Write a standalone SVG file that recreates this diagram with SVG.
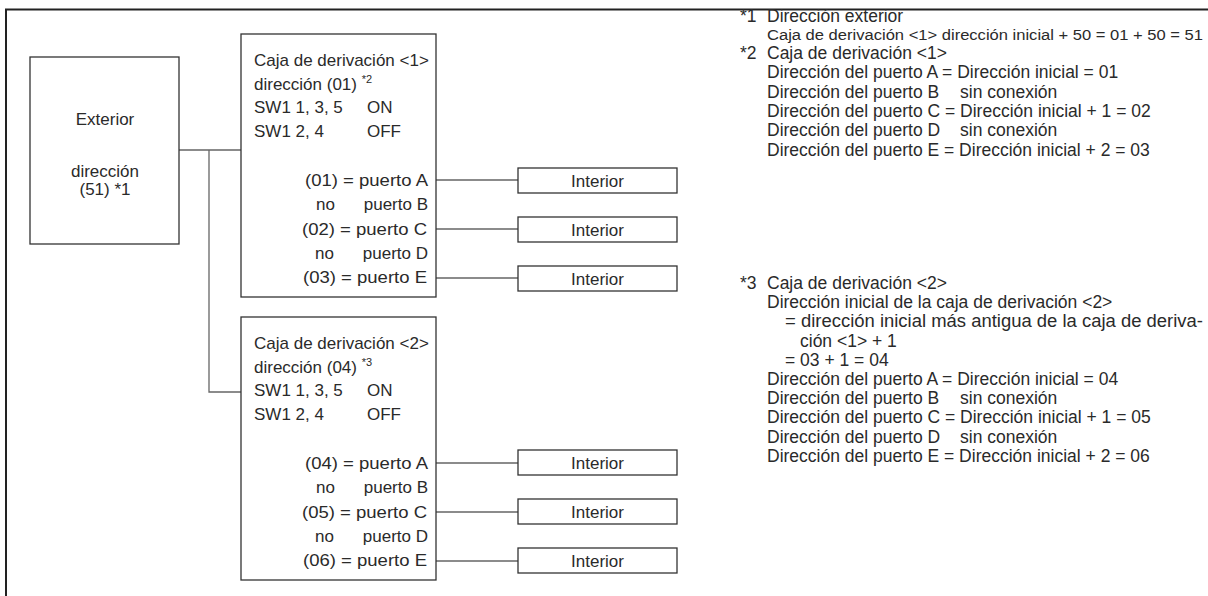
<svg xmlns="http://www.w3.org/2000/svg" width="1208" height="596" viewBox="0 0 1208 596">
<style>
text{font-family:"Liberation Sans",Arial,sans-serif;font-size:17px;fill:#2a2a2a}
.n{font-size:17.5px}
.box{fill:#fff;stroke:#333;stroke-width:1.3}
.wire{fill:none;stroke:#666;stroke-width:1.3}
.frame{fill:none;stroke:#222;stroke-width:2}
.sup{font-size:11px}
.sm{font-size:15.5px}
.e{text-anchor:end}
.m{text-anchor:middle}
</style>
<rect width="1208" height="596" fill="#fff"/>
<path class="frame" d="M6,596 V9.5 H1208"/>
<g id="connectors">
<path class="wire" d="M179,150 H241 M209,150 V392 H241"/>
<path class="wire" d="M436,180 H518 M436,229 H518 M436,278 H518"/>
<path class="wire" d="M436,463 H518 M436,512 H518 M436,561 H518"/>
</g>
<g id="exterior">
<rect class="box" x="30" y="57" width="149" height="187"/>
<text class="m" x="105" y="125">Exterior</text>
<text class="m" x="105" y="177">dirección</text>
<text class="m" x="105" y="195">(51) *1</text>
</g>
<g id="caja1">
<rect class="box" x="241" y="34" width="195" height="263"/>
<text x="254" y="66">Caja de derivación &lt;1&gt;</text>
<text x="254" y="90">dirección (01) <tspan class="sup" dy="-7">*2</tspan></text>
<text x="254" y="113">SW1 1, 3, 5</text><text x="367" y="113">ON</text>
<text x="254" y="137">SW1 2, 4</text><text x="367" y="137">OFF</text>
<text x="305" y="186" textLength="123" lengthAdjust="spacingAndGlyphs">(01) = puerto A</text>
<text x="316" y="210">no</text><text class="e" x="428" y="210">puerto B</text>
<text x="302" y="235" textLength="125" lengthAdjust="spacingAndGlyphs">(02) = puerto C</text>
<text x="315" y="259">no</text><text class="e" x="428" y="259">puerto D</text>
<text x="303" y="283" textLength="124" lengthAdjust="spacingAndGlyphs">(03) = puerto E</text>
</g>
<g id="caja2">
<rect class="box" x="241" y="317" width="195" height="263"/>
<text x="254" y="349">Caja de derivación &lt;2&gt;</text>
<text x="254" y="373">dirección (04) <tspan class="sup" dy="-7">*3</tspan></text>
<text x="254" y="396">SW1 1, 3, 5</text><text x="367" y="396">ON</text>
<text x="254" y="420">SW1 2, 4</text><text x="367" y="420">OFF</text>
<text x="305" y="469" textLength="123" lengthAdjust="spacingAndGlyphs">(04) = puerto A</text>
<text x="316" y="493">no</text><text class="e" x="428" y="493">puerto B</text>
<text x="302" y="518" textLength="125" lengthAdjust="spacingAndGlyphs">(05) = puerto C</text>
<text x="315" y="542">no</text><text class="e" x="428" y="542">puerto D</text>
<text x="303" y="566" textLength="124" lengthAdjust="spacingAndGlyphs">(06) = puerto E</text>
</g>
<g id="interior1"><rect class="box" x="518" y="168" width="159" height="25"/><text class="m" x="597.5" y="187">Interior</text></g>
<g id="interior2"><rect class="box" x="518" y="217" width="159" height="25"/><text class="m" x="597.5" y="236">Interior</text></g>
<g id="interior3"><rect class="box" x="518" y="266" width="159" height="25"/><text class="m" x="597.5" y="285">Interior</text></g>
<g id="interior4"><rect class="box" x="518" y="450" width="159" height="25"/><text class="m" x="597.5" y="469">Interior</text></g>
<g id="interior5"><rect class="box" x="518" y="499" width="159" height="25"/><text class="m" x="597.5" y="518">Interior</text></g>
<g id="interior6"><rect class="box" x="518" y="548" width="159" height="25"/><text class="m" x="597.5" y="567">Interior</text></g>
<g id="notes">
<text class="n" x="740" y="22">*1</text><text class="n" x="767" y="22">Dirección exterior</text>
<text class="sm" x="767" y="40" textLength="436" lengthAdjust="spacingAndGlyphs">Caja de derivación &lt;1&gt; dirección inicial + 50 = 01 + 50 = 51</text>
<text class="n" x="740" y="59">*2</text><text class="n" x="767" y="59">Caja de derivación &lt;1&gt;</text>
<text class="n" x="767" y="78">Dirección del puerto A = Dirección inicial = 01</text>
<text class="n" x="767" y="98">Dirección del puerto B</text><text class="n" x="960" y="98">sin conexión</text>
<text class="n" x="767" y="117">Dirección del puerto C = Dirección inicial + 1 = 02</text>
<text class="n" x="767" y="136">Dirección del puerto D</text><text class="n" x="960" y="136">sin conexión</text>
<text class="n" x="767" y="156">Dirección del puerto E = Dirección inicial + 2 = 03</text>
<text class="n" x="740" y="289">*3</text><text class="n" x="767" y="289">Caja de derivación &lt;2&gt;</text>
<text class="n" x="767" y="308">Dirección inicial de la caja de derivación &lt;2&gt;</text>
<text class="n" x="785" y="327" textLength="418" lengthAdjust="spacingAndGlyphs">= dirección inicial más antigua de la caja de deriva-</text>
<text class="n" x="800" y="347">ción &lt;1&gt; + 1</text>
<text class="n" x="785" y="366">= 03 + 1 = 04</text>
<text class="n" x="767" y="385">Dirección del puerto A = Dirección inicial = 04</text>
<text class="n" x="767" y="404">Dirección del puerto B</text><text class="n" x="960" y="404">sin conexión</text>
<text class="n" x="767" y="423">Dirección del puerto C = Dirección inicial + 1 = 05</text>
<text class="n" x="767" y="443">Dirección del puerto D</text><text class="n" x="960" y="443">sin conexión</text>
<text class="n" x="767" y="462">Dirección del puerto E = Dirección inicial + 2 = 06</text>
</g>
</svg>
